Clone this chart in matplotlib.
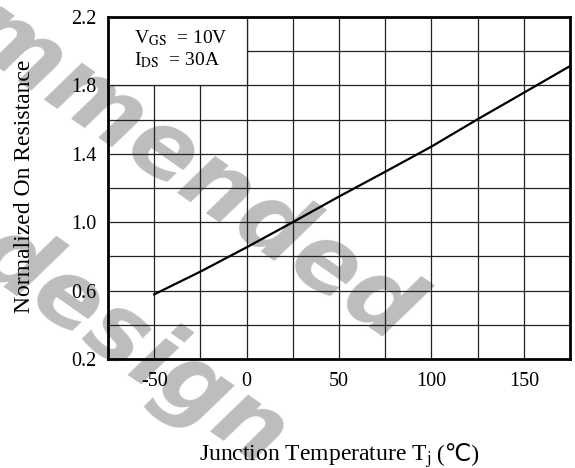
import matplotlib
matplotlib.use("Agg")
import matplotlib.pyplot as plt
from matplotlib.patches import Rectangle

plt.rcParams['font.family'] = ['Liberation Serif', 'DejaVu Sans']
plt.rcParams['mathtext.fontset'] = 'stix'
plt.rcParams['axes.unicode_minus'] = False

# data
temps = [-50, -25, 0, 25, 50, 75, 100, 125, 150, 175]
rds_norm = [0.578, 0.711, 0.853, 1.0, 1.15, 1.295, 1.442, 1.602, 1.757, 1.913]
xticks = [-50, 0, 50, 100, 150]
yticks = [0.2, 0.6, 1.0, 1.4, 1.8, 2.2]
xgrid = [-50, -25, 0, 25, 50, 75, 100, 125, 150]
ygrid = [0.4, 0.6, 0.8, 1.0, 1.2, 1.4, 1.6, 1.8, 2.0]

W, H = 575, 468
fig = plt.figure(figsize=(W / 100, H / 100), dpi=100)
ax = fig.add_axes([108/W, 1 - 359/H, 462/W, 342/H])
ax.patch.set_alpha(0)

# watermark, behind everything
wm = dict(color='#bdbdbd', fontsize=68, fontweight='bold', fontstyle='italic',
          family='DejaVu Sans', rotation=-35, rotation_mode='anchor', zorder=-5)
fig.text(392/W, 1 - 345/H, "Recommended", ha='right', va='baseline', **wm)
fig.text(262/W, 1 - 470/H, "design", ha='right', va='baseline', **wm)

gc = '#222222'
for x in xgrid:
    ax.axvline(x, color=gc, lw=0.9, zorder=1)
for y in ygrid:
    ax.axhline(y, color=gc, lw=0.9, zorder=1)
# condition box
ax.add_patch(Rectangle((-75, 1.8), 75, 0.4, facecolor='white', edgecolor=gc, lw=0.9, zorder=2))
ax.text(-61, 2.048, r"V$_{\rm GS}$  = 10V", fontsize=14, va='baseline', zorder=3)
ax.text(-61, 1.92, r"I$_{\rm DS}$  = 30A", fontsize=14, va='baseline', zorder=3)

ax.plot(temps, rds_norm, color='black', lw=1.6, zorder=4)

ax.set_xlim(-75, 175)
ax.set_ylim(0.2, 2.2)
ax.set_xticks(xticks)
ax.set_yticks(yticks)
ax.set_yticklabels([f"{v:.1f}" for v in yticks])
ax.tick_params(length=0, labelsize=14.5)
ax.tick_params(axis='x', pad=9)
ax.tick_params(axis='y', pad=8)
for s in ax.spines.values():
    s.set_linewidth(2)
    s.set_zorder(5)

fig.text(25/W, 1 - 186/H, "Normalized On Resistance", fontsize=17, rotation=90,
         ha='center', va='center')

# x label in two parts so the degree sign can fall back to DejaVu Sans
t1 = fig.text(0, 1 - 461/H, "Junction Temperature T$_{\\rm j}$", fontsize=17,
              ha='left', va='baseline')
t2 = fig.text(0, 1 - 461/H, " (\u2103)", fontsize=17, ha='left', va='baseline')
r = fig.canvas.get_renderer()
w1 = t1.get_window_extent(r).width
w2 = t2.get_window_extent(r).width
x0 = 339 - (w1 + w2) / 2
t1.set_x(x0 / W)
t2.set_x((x0 + w1) / W)

fig.savefig("out.png", dpi=100)
